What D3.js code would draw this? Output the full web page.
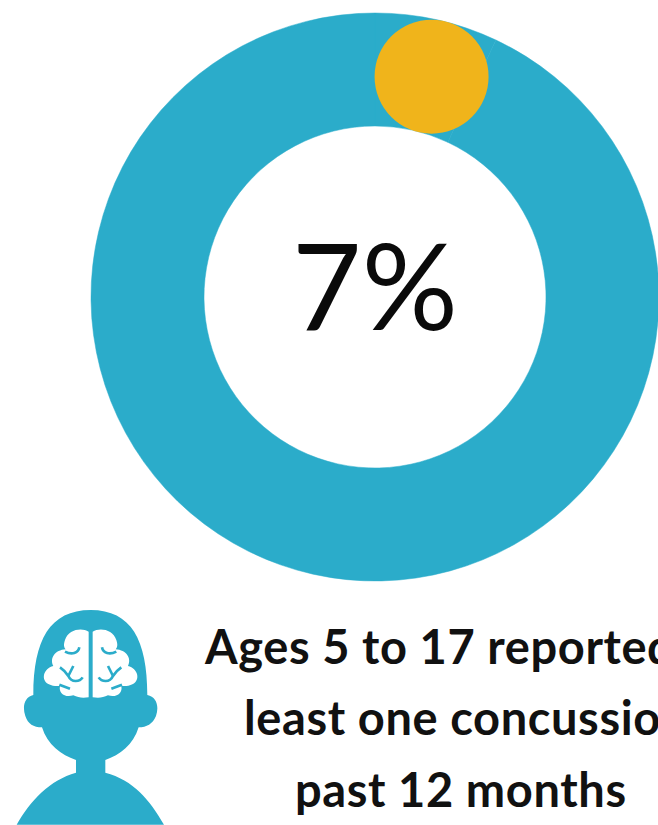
<!DOCTYPE html>
<html>
<head>
<meta charset="utf-8">
<script src="https://cdn.jsdelivr.net/npm/d3@7"></script>
<style>
  html, body { margin: 0; padding: 0; background: #fff; overflow: hidden; }
  svg { display: block; }
</style>
</head>
<body>
<svg id="chart" width="658" height="825"></svg>
<script>
// Share of children reporting a concussion, and the remainder of the ring
const categories = ["Reported a concussion", "Did not report"];
const shares = [7, 93];
const valueLabel = "7%";
const dotPosition = [4];
const captionLines = ["Ages 5 to 17 reported", "least one concussion", "past 12 months"];

const teal = "#2bacca";
const amber = "#f0b41b";

const svg = d3.select("#chart");
const cx = 375, cy = 297;
const outerR = 284, innerR = 171;

const ring = svg.append("g").attr("transform", `translate(${cx},${cy})`);

const pie = d3.pie().sort(null)(shares);
const arc = d3.arc().innerRadius(innerR).outerRadius(outerR);

// Both slices share a colour so the ring reads as one band
ring.selectAll("path.slice")
  .data(pie)
  .join("path")
  .attr("class", "slice")
  .attr("d", arc)
  .attr("fill", teal)
  .attr("stroke", teal)
  .attr("stroke-width", 0.5);

// Amber marker sitting on the band
const angle = d3.scaleLinear().domain([0, 100]).range([0, 2 * Math.PI]);
const midR = (innerR + outerR) / 2;
ring.selectAll("circle.marker")
  .data(dotPosition)
  .join("circle")
  .attr("class", "marker")
  .attr("cx", d => midR * Math.sin(angle(d)))
  .attr("cy", d => -midR * Math.cos(angle(d)))
  .attr("r", 57)
  .attr("fill", amber);

// Centre value
svg.append("text")
  .attr("x", 375)
  .attr("y", 330)
  .attr("text-anchor", "middle")
  .attr("font-family", "Lato, 'Open Sans', sans-serif")
  .attr("font-size", 120)
  .attr("fill", "#0a0a0a")
  .text(valueLabel);

// Caption lines run off the page edge on the right
const lineStarts = [205, 244, 295];
const baselines = [664, 735, 807];
svg.selectAll("text.caption")
  .data(captionLines)
  .join("text")
  .attr("class", "caption")
  .attr("x", (d, i) => lineStarts[i])
  .attr("y", (d, i) => baselines[i])
  .attr("font-family", "Lato, 'Open Sans', sans-serif")
  .attr("font-weight", 700)
  .attr("font-size", 47)
  .attr("letter-spacing", 0.6)
  .attr("fill", "#111")
  .text(d => d);

// Head icon with a brain, authored at triple scale
const icon = svg.append("g").attr("transform", "translate(0,590) scale(0.3333)");

icon.append("path")
  .attr("fill", teal)
  .attr("d", `M100 315 C100 150 150 60 272 60 C394 60 442 150 442 315
    C470 320 478 350 468 378 C458 402 440 412 416 412
    C400 465 360 495 316 510 L316 548
    C400 570 450 630 492 704 L50 704
    C92 630 150 570 228 548 L228 510
    C184 495 142 465 126 412
    C100 412 84 402 76 378 C66 350 74 320 100 315 Z`);

const hemisphere = "M266 125 C245 112 205 118 195 150 C190 165 192 172 197 178 C165 180 148 205 160 228 C130 235 122 270 145 282 C160 290 172 288 180 288 C175 310 195 324 220 316 C235 324 250 324 266 322 Z";
const sulci = [
  "M195 185 C215 195 235 190 238 172",
  "M180 232 C192 240 200 250 205 258 C215 280 240 275 248 262",
  "M205 258 L220 228",
  "M178 284 L210 296"
];

// Draw the left half, then mirror it across the head's centre line
[false, true].forEach(mirrored => {
  const half = icon.append("g")
    .attr("transform", mirrored ? "translate(544,0) scale(-1,1)" : null);
  half.append("path").attr("d", hemisphere).attr("fill", "#fff");
  half.selectAll("path.sulcus")
    .data(sulci)
    .join("path")
    .attr("class", "sulcus")
    .attr("d", d => d)
    .attr("fill", "none")
    .attr("stroke", teal)
    .attr("stroke-width", 8);
});
</script>
</body>
</html>
